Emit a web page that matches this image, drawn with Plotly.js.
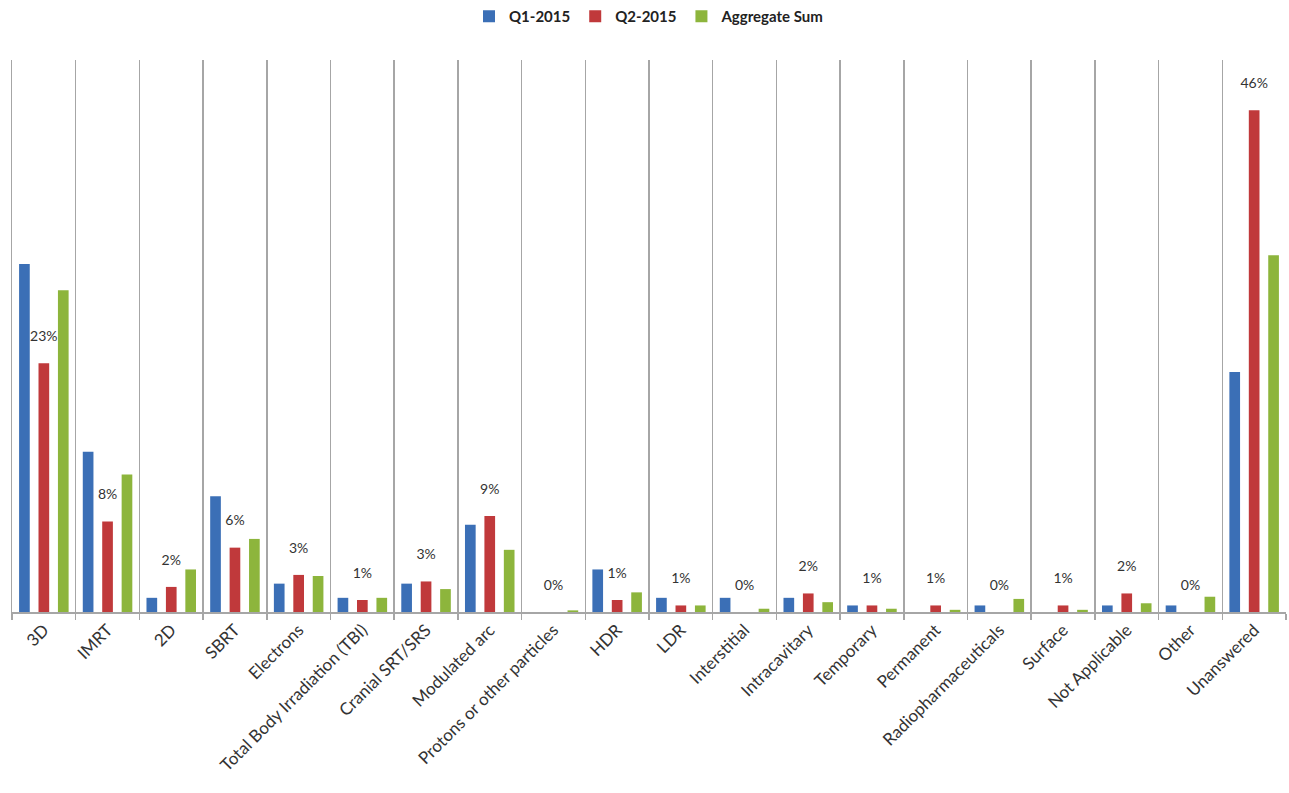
<!DOCTYPE html>
<html>
<head>
<meta charset="utf-8">
<script src="https://cdn.plot.ly/plotly-3.0.1.min.js"></script>
<style>html,body{margin:0;padding:0;background:#fff;}#chart{width:1289px;height:793px;}</style>
</head>
<body>
<div id="chart"></div>
<script>
var categories = ["3D","IMRT","2D","SBRT","Electrons","Total Body Irradiation (TBI)","Cranial SRT/SRS","Modulated arc","Protons or other particles","HDR","LDR","Interstitial","Intracavitary","Temporary","Permanent","Radiopharmaceuticals","Surface","Not Applicable","Other","Unanswered"];
var q1_2015 = [31.9,14.7,1.3,10.6,2.6,1.3,2.6,8.0,0,3.9,1.3,1.3,1.3,0.6,0,0.6,0,0.6,0.6,22.0];
var q2_2015 = [22.8,8.3,2.3,5.9,3.4,1.1,2.8,8.8,0,1.1,0.6,0,1.7,0.6,0.6,0,0.6,1.7,0,46.0];
var aggregateSum = [29.5,12.6,3.9,6.7,3.3,1.3,2.1,5.7,0.15,1.8,0.6,0.3,0.9,0.3,0.2,1.2,0.2,0.8,1.4,32.7];

var fontFam = "Lato, 'Open Sans', sans-serif";
var traces = [
  {type:'bar', name:'Q1-2015', x:categories, y:q1_2015, marker:{color:'#3b6fb6', line:{width:0}}},
  {type:'bar', name:'Q2-2015', x:categories, y:q2_2015, marker:{color:'#c0393b', line:{width:0}},
   texttemplate:'%{y:.0f}%<br><span style="font-size:6px"> </span>', textposition:'outside', cliponaxis:false, constraintext:'none',
   textfont:{family:fontFam, size:14, color:'#333333'}},
  {type:'bar', name:'Aggregate Sum', x:categories, y:aggregateSum, marker:{color:'#8db53c', line:{width:0}}}
];

var layout = {
  width:1289, height:793,
  margin:{l:12, r:3, t:60, b:181},
  paper_bgcolor:'#ffffff', plot_bgcolor:'#ffffff',
  barmode:'group', bargap:0.085, bargroupgap:0.45,
  font:{family:fontFam, size:14, color:'#333333'},
  showlegend:true,
  legend:{orientation:'h', x:0.5, xanchor:'center', y:1.0, yref:'container', yanchor:'top',
    font:{family:fontFam, size:15, color:'#222222', weight:'bold'}, traceorder:'normal', itemsizing:'constant'},
  xaxis:{type:'category', tickson:'boundaries', showgrid:true, gridcolor:'#a6a6a6', gridwidth:1.5,
    ticks:'outside', ticklen:6, tickcolor:'#a6a6a6', tickwidth:1.5, tickangle:-45,
    showline:true, linecolor:'#a6a6a6', linewidth:1.5,
    tickfont:{family:fontFam, size:17, color:'#333333'}},
  yaxis:{range:[0,50.6], showgrid:false, zeroline:false, showticklabels:false,
    showline:true, linecolor:'#a6a6a6', linewidth:1.5, ticks:''}
};

Plotly.newPlot('chart', traces, layout, {displayModeBar:false, staticPlot:true});
</script>
</body>
</html>
